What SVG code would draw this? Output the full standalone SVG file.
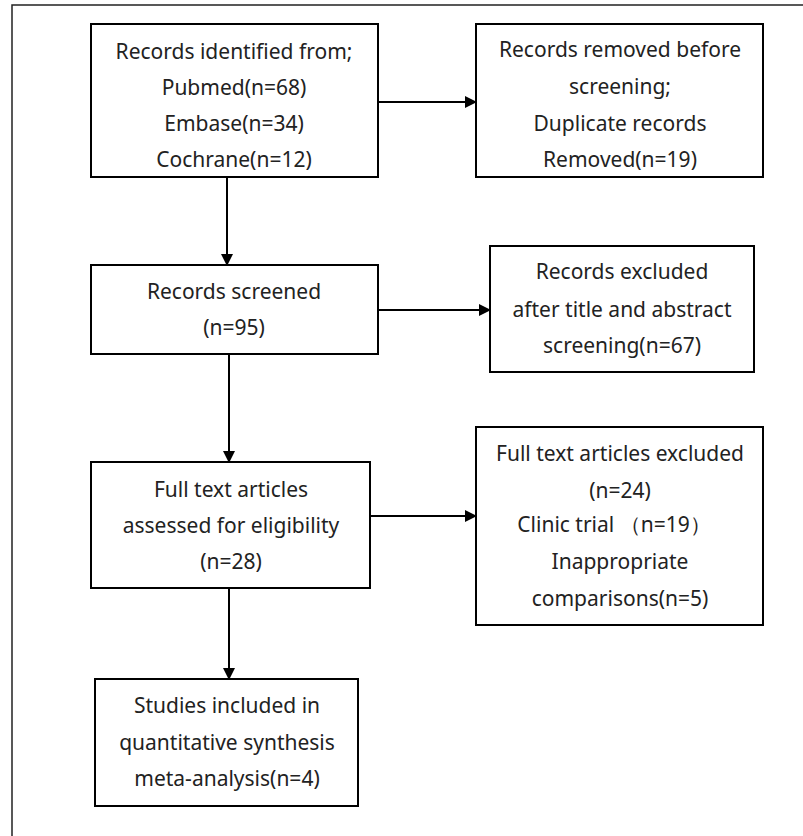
<svg xmlns="http://www.w3.org/2000/svg" width="803" height="836" viewBox="0 0 803 836">
<defs>
<marker id="ah" markerWidth="12" markerHeight="12" refX="11" refY="6" orient="auto" markerUnits="userSpaceOnUse">
<path d="M0,0 L12,6 L0,12 Z" fill="#000"/>
</marker>
<style>
.box{fill:#fff;stroke:#000;stroke-width:2}
.t{font-family:"Noto Sans","Liberation Sans",sans-serif;font-size:21px;fill:#222;text-anchor:middle}
.c{stroke:#000;stroke-width:2;fill:none;marker-end:url(#ah)}
</style>
</defs>
<rect width="803" height="836" fill="#fff"/>
<path d="M12,836 L12,5 L803,5" fill="none" stroke="#222" stroke-width="1.5"/>
<g id="connectors">
<line class="c" x1="378" y1="102" x2="476" y2="102"/>
<line class="c" x1="227" y1="177" x2="227" y2="265"/>
<line class="c" x1="378" y1="310" x2="490" y2="310"/>
<line class="c" x1="229" y1="354" x2="229" y2="462"/>
<line class="c" x1="370" y1="516" x2="476" y2="516"/>
<line class="c" x1="229" y1="588" x2="229" y2="679"/>
</g>
<g id="identified">
<rect class="box" x="91" y="24" width="287" height="153"/>
<text class="t" x="234" y="59">Records identified from;</text>
<text class="t" x="234" y="95">Pubmed(n=68)</text>
<text class="t" x="234" y="131">Embase(n=34)</text>
<text class="t" x="234" y="167">Cochrane(n=12)</text>
</g>
<g id="removed">
<rect class="box" x="476" y="24" width="287" height="153"/>
<text class="t" x="620" y="57">Records removed before</text>
<text class="t" x="620" y="94">screening;</text>
<text class="t" x="620" y="131">Duplicate records</text>
<text class="t" x="620" y="167">Removed(n=19)</text>
</g>
<g id="screened">
<rect class="box" x="91" y="265" width="287" height="89"/>
<text class="t" x="234" y="299">Records screened</text>
<text class="t" x="234" y="335">(n=95)</text>
</g>
<g id="excluded">
<rect class="box" x="490" y="246" width="264" height="126"/>
<text class="t" x="622" y="279">Records excluded</text>
<text class="t" x="622" y="317">after title and abstract</text>
<text class="t" x="622" y="353">screening(n=67)</text>
</g>
<g id="fulltext">
<rect class="box" x="91" y="462" width="279" height="126"/>
<text class="t" x="231" y="497">Full text articles</text>
<text class="t" x="231" y="533">assessed for eligibility</text>
<text class="t" x="231" y="569">(n=28)</text>
</g>
<g id="ftexcluded">
<rect class="box" x="476" y="427" width="287" height="198"/>
<text class="t" x="620" y="461">Full text articles excluded</text>
<text class="t" x="620" y="498">(n=24)</text>
<text class="t" x="614" y="532">Clinic trial （n=19）</text>
<text class="t" x="620" y="569">Inappropriate</text>
<text class="t" x="620" y="606">comparisons(n=5)</text>
</g>
<g id="included">
<rect class="box" x="95" y="679" width="263" height="127"/>
<text class="t" x="227" y="713">Studies included in</text>
<text class="t" x="227" y="750">quantitative synthesis</text>
<text class="t" x="227" y="786">meta-analysis(n=4)</text>
</g>
</svg>
